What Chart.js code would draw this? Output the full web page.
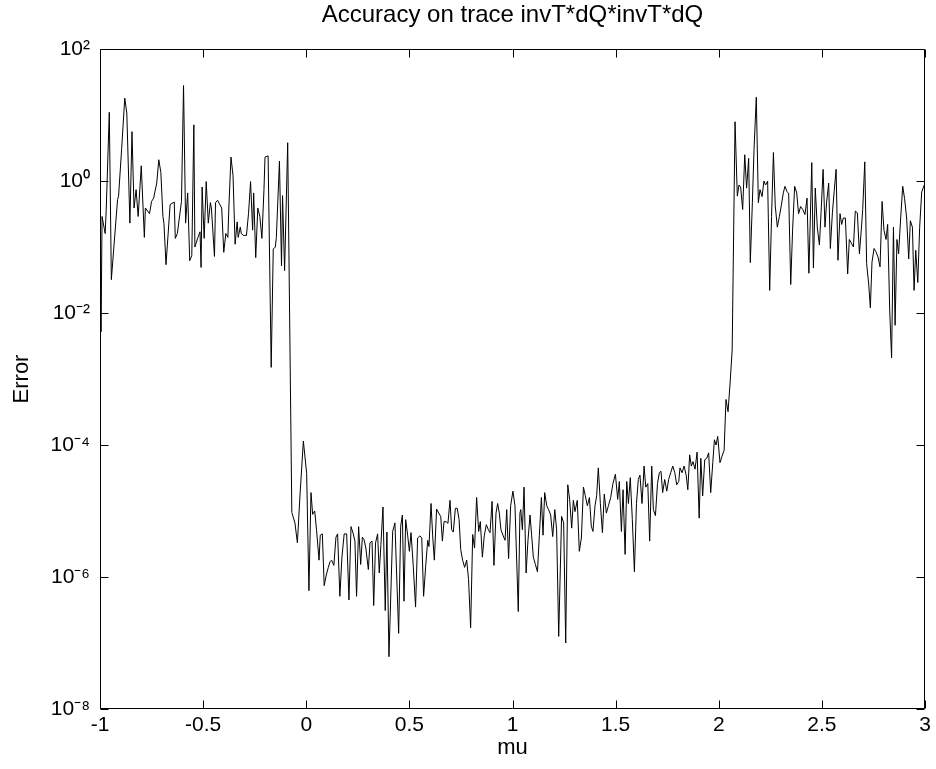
<!DOCTYPE html>
<html><head><meta charset="utf-8">
<script src="https://cdn.jsdelivr.net/npm/chart.js@4.4.0/dist/chart.umd.min.js"></script>
<style>html,body{margin:0;padding:0;background:#fff;}canvas{display:block;}</style>
</head><body>
<canvas id="c" width="936" height="769"></canvas>
<script>
const titleText = 'Accuracy on trace invT*dQ*invT*dQ';
const xLabel = 'mu';
const yLabel = 'Error';
const xTicks = [-1, -0.5, 0, 0.5, 1, 1.5, 2, 2.5, 3];
const yTicks = [1e-8, 1e-6, 1e-4, 1e-2, 1e0, 1e2];

const mu = [
  -1.00,-0.995,-0.99,-0.975,-0.97,-0.955,-0.945,-0.915,-0.91,-0.895,-0.88,-0.87,-0.855,-0.845,-0.835,-0.825,-0.815,-0.80,-0.785,-0.78,
  -0.76,-0.75,-0.74,-0.725,-0.715,-0.705,-0.695,-0.69,-0.68,-0.66,-0.64,-0.635,-0.625,-0.605,-0.595,-0.585,-0.575,-0.565,-0.555,-0.545,
  -0.54,-0.525,-0.515,-0.51,-0.505,-0.495,
  -0.485,-0.475,-0.465,-0.46,-0.445,-0.44,-0.43,-0.41,-0.40,-0.39,-0.38,-0.375,-0.365,-0.355,-0.345,-0.335,-0.33,-0.32,-0.315,-0.305,
  -0.29,-0.28,-0.27,-0.26,-0.255,-0.245,-0.235,-0.225,-0.215,-0.205,-0.20,-0.185,-0.17,-0.16,-0.15,-0.145,-0.13,-0.12,-0.115,-0.105,
  -0.09,
  -0.07,-0.055,-0.043,-0.03,-0.014,0.002,0.013,0.023,0.031,0.041,0.05,0.062,0.068,0.078,0.087,0.097,0.107,0.115,0.123,0.134,
  0.144,0.152,0.163,0.173,0.184,0.196,0.207,0.217,0.228,0.236,0.244,0.254,0.264,0.272,0.28,0.289,0.301,0.309,0.319,0.327,
  0.336,0.346,0.354,0.362,0.372,0.383,0.391,0.401,
  0.419,0.43,0.438,0.448,0.458,0.466,0.474,0.482,0.492,0.50,0.508,0.519,0.53,0.54,0.551,0.56,0.569,0.579,0.589,0.595,
  0.605,0.613,0.621,0.632,0.642,0.652,0.66,0.668,0.678,0.687,0.697,0.705,0.713,0.723,0.732,0.741,0.749,0.758,0.768,0.778,
  0.787,0.797,0.807,0.816,0.826,0.836,0.844,0.854,0.863,0.873,0.883,0.891,0.901,0.91,0.92,0.928,0.936,0.944,0.955,0.964,
  0.972,0.981,0.991,1.002,1.012,1.028,1.036,
  1.04,1.048,1.056,1.066,1.075,1.085,1.093,1.101,1.111,1.121,1.13,1.14,1.148,1.156,1.166,1.175,1.185,1.195,1.205,1.214,
  1.224,1.238,1.248,1.258,1.268,1.277,1.287,1.295,1.303,1.314,1.324,1.334,1.344,1.353,1.363,1.373,1.382,1.39,1.40,1.408,
  1.416,1.426,1.436,1.445,1.455,1.465,1.476,1.487,1.499,1.51,1.518,1.528,1.536,1.546,1.554,1.562,1.571,1.581,1.591,1.601,
  1.61,1.618,
  1.628,1.638,1.646,1.656,1.665,1.675,1.683,1.693,1.703,1.712,1.72,1.728,1.738,1.748,1.757,1.767,1.777,1.787,1.796,1.806,
  1.812,1.822,1.832,1.842,1.85,1.859,1.867,1.875,1.885,1.895,1.905,1.913,1.922,1.932,1.942,1.951,1.961,1.971,1.979,1.987,
  1.995,2.006,2.016,2.026,2.035,2.045,2.055,2.065,
  2.079,2.09,2.098,2.106,2.116,2.126,2.135,2.145,2.153,2.163,2.171,2.182,2.192,2.20,2.21,2.219,2.227,2.237,2.247,2.256,
  2.265,2.274,2.284,2.294,2.303,2.313,2.321,2.331,2.339,2.349,2.358,2.368,2.378,2.387,2.397,2.407,2.418,2.428,2.437,
  2.451,2.459,2.468,2.478,2.488,2.496,2.506,2.515,2.523,2.533,2.541,2.551,2.56,2.569,2.578,2.588,2.596,2.604,2.614,2.625,
  2.633,2.643,2.653,2.662,2.672,2.682,2.691,2.698,2.708,2.717,2.727,2.735,2.743,2.753,2.762,2.772,2.782,2.792,2.801,2.811,
  2.819,2.829,2.838,2.847,2.855,2.864,2.872,2.882,2.892,2.901,2.911,2.921,2.929,2.939,2.947,2.955,2.965,2.974,2.984,2.995,
  3.00
];

const err = [
  2.8e-1,5.2e-3,2.9e-1,1.6e-1,3.6e-1,11,3.2e-2,5.2e-1,5.9e-1,3.1,18,10.7,2.3e-1,5.6,3.9e-1,7.4e-1,2.9e-1,1.7,1.4e-1,3.9e-1,
  3.2e-1,4.9e-1,5.5e-1,9.3e-1,2.1,1.35,2.9e-1,2.3e-1,5.4e-2,4.4e-1,4.8e-1,1.35e-1,1.6e-1,4.9e-1,28,2.3e-1,6.6e-1,6.2e-2,7.4e-2,7.1,
  1.0e-1,1.4e-1,1.7e-1,4.9e-2,8.1e-1,1.35e-1,
  9.8e-1,2.3e-1,4.7e-1,3.9e-1,7.2e-2,4.7e-1,5.1e-1,3.9e-1,8.3e-2,1.6e-1,1.4e-1,4.2e-1,2.3,1.2,1.1e-1,2.4e-1,1.4e-1,2.0e-1,1.6e-1,1.5e-1,
  1.5e-1,3.2e-1,9.8e-1,1.8e-1,6.6e-1,6.9e-2,3.9e-1,2.9e-1,1.35e-1,7.4e-1,2.3,2.4,1.5e-3,9.3e-2,1.0e-1,1.4e-1,2.0,5.2e-2,6.0e-1,4.4e-2,
  3.8,
  9.5e-6,6.6e-6,3.3e-6,1.8e-5,1.15e-4,3.7e-5,6.2e-7,1.9e-5,8.9e-6,1.0e-5,5.1e-6,1.8e-6,4.3e-6,4.5e-6,7.4e-7,1.07e-6,1.4e-6,1.7e-6,1.8e-6,1.5e-6,
  4.0e-6,4.5e-6,5.1e-7,2.0e-6,4.5e-6,4.5e-6,4.5e-7,5.8e-6,4.5e-6,3.5e-6,5.1e-7,5.8e-6,1.55e-6,4.0e-6,3.7e-6,2.75e-6,1.3e-6,3.3e-6,3.5e-6,3.7e-7,
  3.3e-6,4.5e-6,1.15e-6,3.1e-6,1.15e-5,3.1e-7,4.8e-6,6.2e-8,
  4.9e-6,6.6e-6,1.15e-6,1.4e-7,5.9e-6,8.7e-6,4.3e-7,7.4e-6,4.2e-6,2.45e-6,4.7e-6,1.45e-6,3.5e-7,3.9e-6,4.2e-6,3.9e-6,5.1e-7,1.45e-6,3.6e-6,2.9e-6,
  1.3e-5,4.2e-6,1.8e-6,1.07e-5,9.3e-6,8.3e-6,3.5e-6,6.9e-6,6.9e-6,6.5e-6,1.45e-5,5.2e-6,4.8e-6,1.1e-5,1.1e-5,7.4e-6,2.6e-6,1.8e-6,1.4e-6,1.8e-6,
  9.1e-7,1.7e-7,4.4e-6,2.75e-6,1.6e-5,4.9e-6,6.9e-6,2.0e-6,4.2e-6,6.2e-6,5.2e-6,4.7e-6,1.4e-5,1.5e-6,9.3e-6,1.3e-5,9.3e-6,5.2e-6,4.2e-6,3.6e-6,
  1.05e-5,1.9e-6,1.2e-5,2.0e-5,1.2e-5,3.0e-7,9.3e-6,
  1.05e-5,5.2e-6,2.3e-5,1.15e-6,3.6e-6,8.7e-6,4.2e-6,2.0e-6,1.55e-6,1.2e-6,4.2e-6,1.6e-5,4.3e-6,1.9e-5,1.2e-5,1.05e-5,8.7e-6,4.1e-6,1.05e-5,5.2e-6,
  1.26e-7,8.3e-6,6.6e-6,1.0e-7,2.5e-5,1.5e-5,5.5e-6,1.45e-5,9.8e-6,1.45e-5,2.45e-6,3.9e-6,2.3e-5,1.7e-5,1.2e-5,1.6e-5,5.9e-6,4.9e-6,1.2e-5,1.7e-5,
  4.5e-5,1.3e-5,4.7e-6,1.8e-5,9.3e-6,1.2e-5,1.6e-5,2.6e-5,3.6e-5,1.5e-5,2.8e-5,4.9e-6,2.1e-5,2.2e-6,2.8e-5,1.3e-5,3.2e-5,7.4e-6,1.2e-6,1.3e-5,
  3.0e-5,3.5e-5,
  1.3e-5,4.8e-5,2.3e-5,2.6e-5,3.5e-6,4.8e-5,1.05e-5,8.5e-6,2.6e-5,3.8e-5,4.0e-5,1.9e-5,3.0e-5,2.0e-5,3.0e-5,3.8e-5,4.8e-5,3.8e-5,2.5e-5,2.8e-5,
  4.5e-5,3.8e-5,4.8e-5,3.5e-5,2.1e-5,7.1e-5,4.8e-5,5.6e-5,4.3e-5,7.8e-5,7.8e-6,6.3e-5,1.7e-5,6.0e-5,6.3e-5,7.6e-5,1.9e-5,5.4e-5,1.2e-4,1.0e-4,
  1.35e-4,5.4e-5,6.8e-5,8.3e-5,4.9e-4,3.2e-4,8.7e-4,2.75e-3,
  7.9,5.9e-1,8.7e-1,8.1e-1,3.7e-1,2.5,7.8e-1,2.2,5.8e-2,4.7e-1,3.0,18.6,4.7e-1,7.4e-1,5.8e-1,1.0,8.7e-1,1.0,2.2e-2,2.9e-1,
  2.7,4.2e-1,2.0e-1,2.9e-1,4.2e-1,6.6e-1,8.3e-1,6.9e-1,6.5e-1,2.7e-2,1.8e-1,8.3e-1,6.6e-1,3.2e-1,4.1e-1,3.7e-1,3.1e-1,5.5e-1,4.0e-2,
  1.9,4.8e-2,7.8e-1,1.95e-1,1.07e-1,3.3e-1,1.5,2.0e-1,4.8e-1,9.3e-1,9.5e-2,3.3e-1,7.2e-1,1.5,6.3e-2,3.2e-1,2.2e-1,2.75e-1,2.75e-1,3.9e-2,
  1.3e-1,1.15e-1,1.0e-1,3.5e-1,3.3e-1,7.9e-2,1.8e-1,3.7e-1,1.95,5.6e-2,2.75e-2,1.2e-2,5.9e-2,9.5e-2,8.5e-2,7.1e-2,5.0e-2,4.9e-1,1.8e-1,1.3e-1,
  2.2e-1,1.07e-2,2.1e-3,2.0e-1,6.5e-3,1.3e-1,7.9e-2,2.75e-1,8.3e-1,5.4e-1,2.75e-1,6.6e-2,2.5e-1,2.0e-1,2.2e-2,8.9e-2,2.9e-2,1.95e-1,6.8e-1,8.5e-1,
  8.9e-1
];

const FONT = '"Liberation Sans", Arial, Helvetica, sans-serif';
const SUP = {'0':'\u2070','1':'\u00B9','2':'\u00B2','3':'\u00B3','4':'\u2074','5':'\u2075','6':'\u2076','7':'\u2077','8':'\u2078','9':'\u2079','-':'\u207B'};
function powLabel(v) {
  const e = Math.round(Math.log10(v));
  return '10' + String(e).split('').map(c => SUP[c]).join('');
}

const frame = {
  id: 'frame',
  afterDraw(chart) {
    const {ctx, chartArea, scales} = chart;
    const l = Math.round(chartArea.left) + 0.5, r = Math.round(chartArea.right) - 0.5;
    const t = Math.round(chartArea.top) + 0.5, b = Math.round(chartArea.bottom) - 0.5;
    const tl = 8;
    ctx.save();
    ctx.strokeStyle = '#000';
    ctx.lineWidth = 1;
    ctx.beginPath();
    ctx.rect(l, t, r - l, b - t);
    scales.x.ticks.forEach(tk => {
      const px = Math.round(scales.x.getPixelForValue(tk.value)) + 0.5;
      ctx.moveTo(px, b); ctx.lineTo(px, b - tl);
      ctx.moveTo(px, t); ctx.lineTo(px, t + tl);
    });
    scales.y.ticks.forEach(tk => {
      const py = Math.round(scales.y.getPixelForValue(tk.value)) + 0.5;
      ctx.moveTo(l, py); ctx.lineTo(l + tl, py);
      ctx.moveTo(r, py); ctx.lineTo(r - tl, py);
    });
    ctx.stroke();
    ctx.restore();
  }
};

new Chart(document.getElementById('c'), {
  type: 'scatter',
  data: {
    datasets: [{
      data: mu.map((m, i) => ({x: m, y: err[i]})),
      showLine: true,
      borderColor: '#000',
      borderWidth: 1,
      pointRadius: 0,
      tension: 0,
      fill: false
    }]
  },
  options: {
    responsive: false,
    animation: false,
    devicePixelRatio: 1,
    layout: {padding: {left: 0, right: 11, top: 0, bottom: 0}},
    plugins: {
      legend: {display: false},
      tooltip: {enabled: false},
      title: {
        display: true,
        text: titleText,
        fullSize: false,
        color: '#000',
        font: {family: FONT, size: 24, weight: 'normal', lineHeight: 1.2},
        padding: {top: 1, bottom: 19.2}
      }
    },
    scales: {
      x: {
        type: 'linear',
        min: -1, max: 3,
        afterBuildTicks: ax => { ax.ticks = xTicks.map(v => ({value: v})); },
        afterFit: ax => { ax.height = 60; },
        grid: {display: false, drawTicks: false},
        border: {display: false},
        ticks: {color: '#000', padding: 4, maxRotation: 0, autoSkip: false,
          font: {family: FONT, size: 21},
          callback: v => String(v)},
        title: {display: true, text: xLabel, color: '#000',
          font: {family: FONT, size: 22, lineHeight: 1.2}, padding: {top: 2, bottom: 8}}
      },
      y: {
        type: 'logarithmic',
        min: 1e-8, max: 1e2,
        afterBuildTicks: ax => { ax.ticks = yTicks.map(v => ({value: v})); },
        afterFit: ax => { ax.width = 100; },
        grid: {display: false, drawTicks: false},
        border: {display: false},
        ticks: {color: '#000', padding: 10, autoSkip: false,
          font: {family: FONT, size: 21},
          callback: v => powLabel(v)},
        title: {display: true, text: yLabel, color: '#000',
          font: {family: FONT, size: 22, lineHeight: 1.2}, padding: {top: 9, bottom: 2}}
      }
    }
  },
  plugins: [frame]
});
</script>
</body></html>
